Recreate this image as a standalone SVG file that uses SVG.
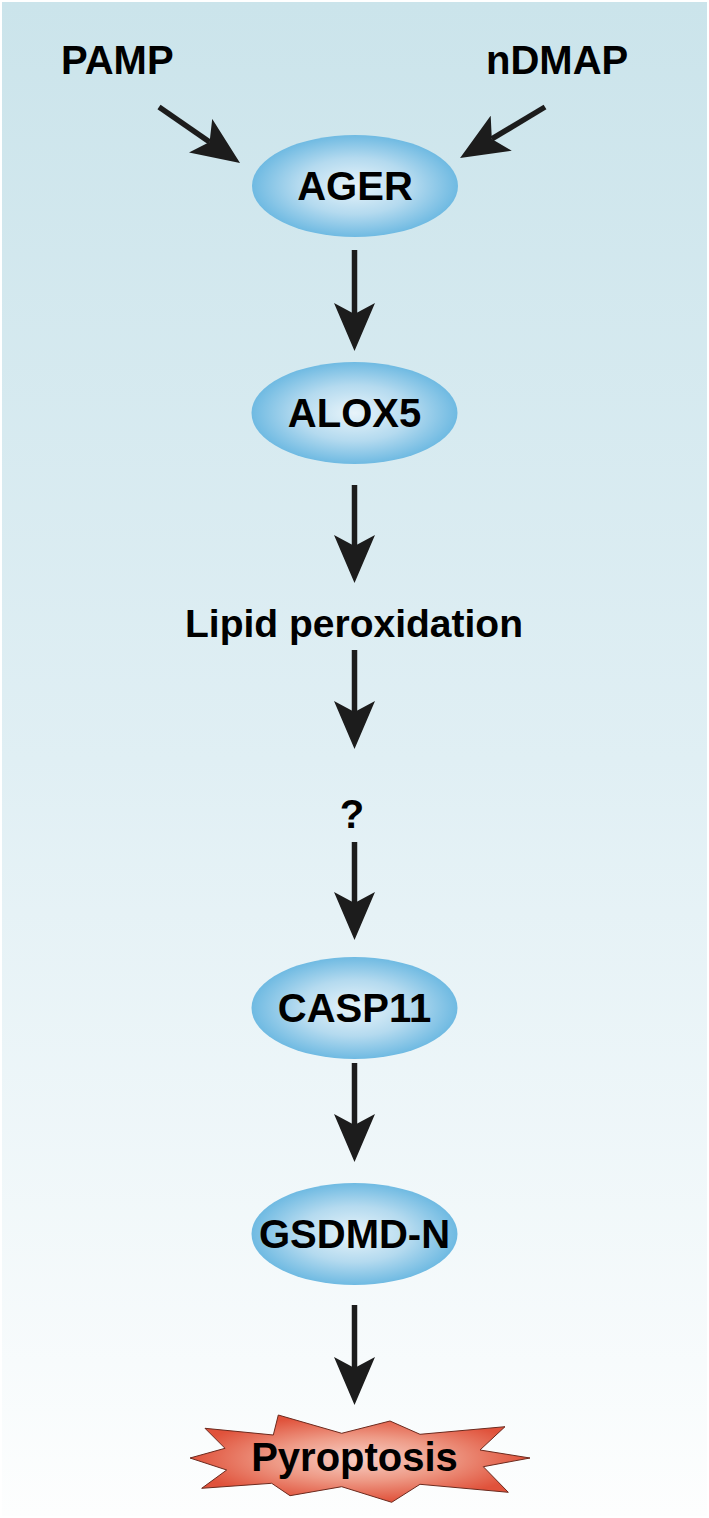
<svg xmlns="http://www.w3.org/2000/svg" width="709" height="1518" viewBox="0 0 709 1518">
<style>
.t{font-family:"Liberation Sans",Arial,Helvetica,sans-serif;font-weight:bold;font-size:40px;fill:#000;}
.m{text-anchor:middle;}
.node{fill:url(#blue);}
.arr{stroke:#1c1c1c;stroke-width:5.5;fill:none;marker-end:url(#head);}
</style>
<defs>
<linearGradient id="bg" x1="0" y1="0" x2="0" y2="1">
<stop offset="0" stop-color="#cbe4eb"/>
<stop offset="0.5" stop-color="#e0eff4"/>
<stop offset="1" stop-color="#fdfefe"/>
</linearGradient>
<radialGradient id="blue" cx="0.5" cy="0.5" r="0.5">
<stop offset="0" stop-color="#e8f4fa"/>
<stop offset="0.55" stop-color="#b4daef"/>
<stop offset="1" stop-color="#6fbae2"/>
</radialGradient>
<radialGradient id="red" cx="0.5" cy="0.5" r="0.5">
<stop offset="0" stop-color="#f8d0c6"/>
<stop offset="0.5" stop-color="#ee9a86"/>
<stop offset="1" stop-color="#e0523b"/>
</radialGradient>
<marker id="head" markerUnits="userSpaceOnUse" markerWidth="48" markerHeight="41" viewBox="0 0 48 41" refX="11" refY="20.5" orient="auto">
<path d="M0,0 L48,20.5 L0,41 L11,20.5 Z" fill="#1c1c1c"/>
</marker>
</defs>
<rect x="0" y="0" width="709" height="1518" fill="#ffffff"/>
<rect x="2" y="2" width="705" height="1514" fill="url(#bg)"/>

<g id="connectors">
<line class="arr" x1="159" y1="107" x2="209.6" y2="142"/>
<line class="arr" x1="545" y1="107" x2="491.8" y2="138.9"/>
<line class="arr" x1="354.5" y1="250" x2="354.5" y2="314"/>
<line class="arr" x1="354.5" y1="485" x2="354.5" y2="546"/>
<line class="arr" x1="354.5" y1="650" x2="354.5" y2="712"/>
<line class="arr" x1="354.5" y1="842" x2="354.5" y2="903"/>
<line class="arr" x1="354.5" y1="1063" x2="354.5" y2="1125"/>
<line class="arr" x1="354.5" y1="1305" x2="354.5" y2="1368"/>
</g>

<g id="pamp"><text class="t" x="61" y="74">PAMP</text></g>
<g id="ndmap"><text class="t" x="486" y="74">nDMAP</text></g>

<g id="ager">
<ellipse class="node" cx="355" cy="186" rx="103" ry="51"/>
<text class="t m" x="355" y="200">AGER</text>
</g>
<g id="alox5">
<ellipse class="node" cx="354.5" cy="413" rx="103" ry="51"/>
<text class="t m" x="354.5" y="427">ALOX5</text>
</g>
<g id="lipid">
<text class="t m" x="354" y="637" style="font-size:39px">Lipid peroxidation</text>
</g>
<g id="unknown">
<text class="t m" x="352" y="828">?</text>
</g>
<g id="casp11">
<ellipse class="node" cx="354.5" cy="1008" rx="103" ry="51"/>
<text class="t m" x="354.5" y="1022">CASP11</text>
</g>
<g id="gsdmd">
<ellipse class="node" cx="354.5" cy="1234" rx="103" ry="51"/>
<text class="t m" x="354.5" y="1248">GSDMD-N</text>
</g>
<g id="pyroptosis">
<polygon points="278.3,1415 341.7,1433.3 390,1421 420,1434.3 505,1426.7 480,1450 530,1458 483.3,1466.7 508.3,1492.3 420,1484.3 391.7,1502.3 341.7,1486.7 290,1495.7 271.7,1483.3 201.7,1488.3 226.7,1470 190,1458 225,1448.3 205,1428.3 273.3,1435" fill="url(#red)" stroke="#6b2a1e" stroke-width="1" stroke-linejoin="miter"/>
<text class="t m" x="354.5" y="1471">Pyroptosis</text>
</g>
</svg>
